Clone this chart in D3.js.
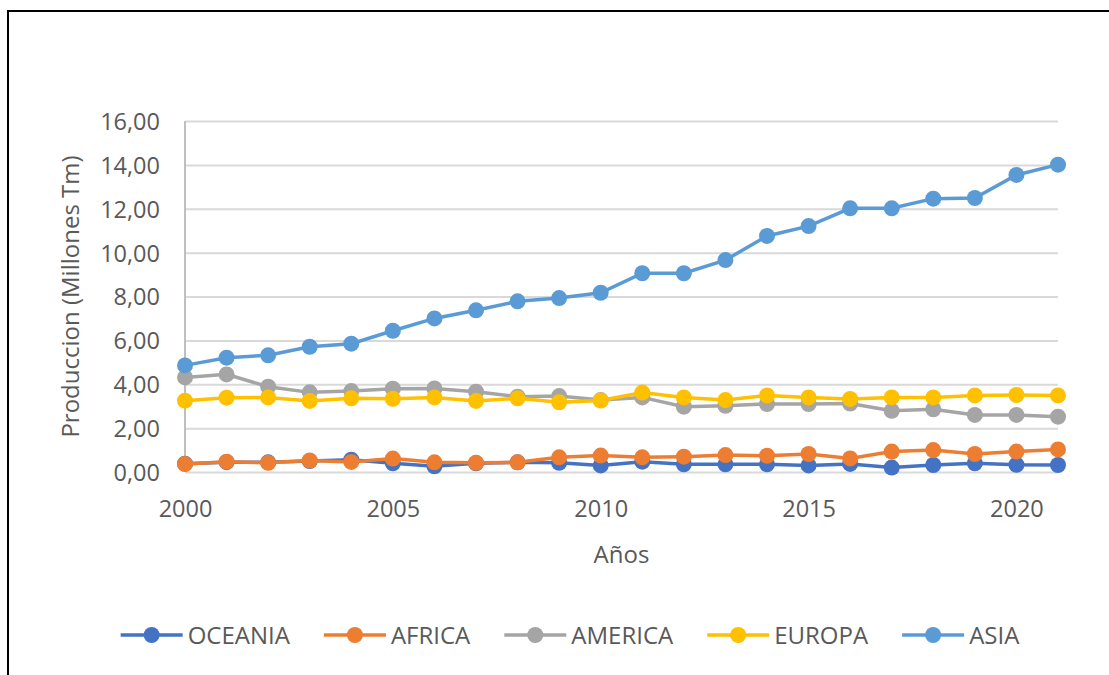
<!DOCTYPE html>
<meta charset='utf-8'>
<style>
body { margin: 0; background: #fff; }
svg text { font-family: 'Open Sans', sans-serif; fill: #595959; }
.grid line { stroke: #d9d9d9; stroke-width: 2px; }
.grid .domain { stroke: none; }
.series path { fill: none; stroke-width: 3.5px; }
</style>
<body>
<script src='https://d3js.org/d3.v7.min.js'></script>
<script>
'use strict'

// Data (millones Tm)
let years = d3.range(2000, 2022)
let tickYears = [2000, 2005, 2010, 2015, 2020]
let yTicks = [0, 2, 4, 6, 8, 10, 12, 14, 16]
let names = ['OCEANIA', 'AFRICA', 'AMERICA', 'EUROPA', 'ASIA']
let colors = ['#4472c4', '#ed7d31', '#a5a5a5', '#ffc000', '#5b9bd5']

let oceania = [0.38, 0.45, 0.44, 0.50, 0.56, 0.40, 0.26, 0.40, 0.44, 0.42, 0.30,
	0.47, 0.35, 0.35, 0.35, 0.30, 0.37, 0.20, 0.32, 0.40, 0.33, 0.32]
let africa = [0.36, 0.47, 0.42, 0.52, 0.46, 0.61, 0.44, 0.42, 0.44, 0.67, 0.75,
	0.67, 0.70, 0.77, 0.74, 0.82, 0.62, 0.93, 1.00, 0.82, 0.93, 1.03]
let america = [4.31, 4.45, 3.89, 3.63, 3.69, 3.80, 3.81, 3.66, 3.43, 3.46, 3.28,
	3.40, 2.98, 3.02, 3.10, 3.10, 3.12, 2.79, 2.86, 2.60, 2.60, 2.52]
let europa = [3.25, 3.39, 3.40, 3.24, 3.36, 3.34, 3.40, 3.24, 3.36, 3.18, 3.26,
	3.62, 3.40, 3.28, 3.49, 3.40, 3.33, 3.40, 3.40, 3.49, 3.51, 3.49]
let asia = [4.86, 5.21, 5.32, 5.71, 5.85, 6.44, 7.00, 7.37, 7.78, 7.93, 8.17,
	9.06, 9.06, 9.66, 10.76, 11.21, 12.02, 12.02, 12.46, 12.49, 13.54, 14.01]

let series = [oceania, africa, america, europa, asia]
	.map((vals, i) => ({name: names[i], color: colors[i], vals: vals}))


// Layout

let W = 1109, H = 675,
	plot = {left: 185, right: 1058, top: 121, bottom: 472},
	x = d3.scaleLinear().domain([2000, 2021]).range([plot.left, plot.right]),
	y = d3.scaleLinear().domain([0, 16]).range([plot.bottom, plot.top]),
	fmt = v => d3.format('.2f')(v).replace('.', ',')

let svg = d3.select('body').append('svg')
	.attr('width', W).attr('height', H)

// chart frame (right and bottom edges fall outside the picture)
svg.append('rect')
	.attr('x', 8).attr('y', 11).attr('width', 1200).attr('height', 800)
	.attr('fill', 'none').attr('stroke', '#000').attr('stroke-width', 2)


// Grid and axes

svg.append('g').attr('class', 'grid')
	.attr('transform', `translate(${plot.left},0)`)
	.call(d3.axisRight(y).tickValues(yTicks).tickSize(plot.right - plot.left).tickFormat(''))

svg.append('line')
	.attr('x1', plot.left).attr('x2', plot.left)
	.attr('y1', plot.top).attr('y2', plot.bottom)
	.attr('stroke', '#bfbfbf').attr('stroke-width', 2)

svg.append('g')
	.attr('transform', `translate(${plot.left - 25},0)`)
	.call(d3.axisLeft(y).tickValues(yTicks).tickSize(0).tickPadding(0).tickFormat(fmt))
	.call(s => s.select('.domain').remove())
	.call(s => s.selectAll('text').style('font-size', '23.5px').attr('dy', '0.36em').style('fill', '#595959'))

svg.append('g')
	.attr('transform', `translate(0,${plot.bottom})`)
	.call(d3.axisBottom(x).tickValues(tickYears).tickSize(0).tickPadding(0).tickFormat(d3.format('d')))
	.call(s => s.select('.domain').remove())
	.call(s => s.selectAll('text').style('font-size', '23.5px').attr('y', 45).attr('dy', 0).style('fill', '#595959'))

svg.append('text')
	.attr('x', (plot.left + plot.right) / 2).attr('y', 563)
	.attr('text-anchor', 'middle').style('font-size', '24px')
	.text('Años')

svg.append('text')
	.attr('transform', `translate(79,${(plot.top + plot.bottom) / 2}) rotate(-90)`)
	.attr('text-anchor', 'middle').style('font-size', '24px')
	.text('Produccion (Millones Tm)')


// Series

let line = d3.line().x((d, i) => x(years[i])).y(d => y(d))

let g = svg.selectAll('.series').data(series).enter()
	.append('g').attr('class', 'series')

g.append('path')
	.attr('d', d => line(d.vals))
	.attr('stroke', d => d.color)

g.selectAll('circle').data(d => d.vals.map(v => ({v: v, c: d.color}))).enter()
	.append('circle')
	.attr('cx', (d, i) => x(years[i])).attr('cy', d => y(d.v))
	.attr('r', 8).attr('fill', d => d.c)


// Legend

let leg = svg.append('g'), lx = 0, legY = 635
series.forEach(s => {
	let item = leg.append('g').attr('transform', `translate(${lx},0)`)
	item.append('line')
		.attr('x1', 0).attr('x2', 62).attr('y1', legY).attr('y2', legY)
		.attr('stroke', s.color).attr('stroke-width', 3.5)
	item.append('circle').attr('cx', 31).attr('cy', legY).attr('r', 8).attr('fill', s.color)
	let t = item.append('text')
		.attr('x', 67).attr('y', legY + 9).style('font-size', '24px')
		.text(s.name)
	lx += 67 + t.node().getComputedTextLength() + 34
})
let legW = lx - 34
leg.attr('transform', `translate(${570 - legW / 2},0)`)

</script>
</body>
